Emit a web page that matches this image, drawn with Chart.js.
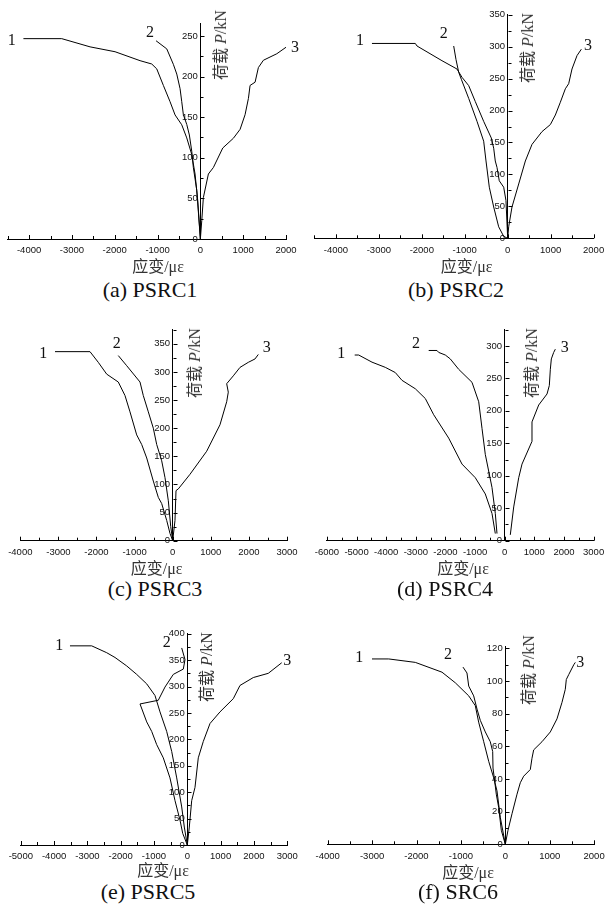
<!DOCTYPE html>
<html>
<head>
<meta charset="utf-8">
<script src="https://cdn.jsdelivr.net/npm/chart.js@4.4.0/dist/chart.umd.min.js"></script>
<style>
  body { margin: 0; background: #fff; width: 605px; height: 915px; position: relative; overflow: hidden; }
  canvas { position: absolute; }
  .t { position: absolute; transform: translate(-50%, -50%); line-height: 1; white-space: nowrap;
       color: #111; font-family: "Liberation Serif", "Noto Sans CJK SC", serif; }
  .cap { font-size: 22px; }
  .ttl { font-size: 16px; color: #333; }
  .num { font-size: 16px; }
  .ylab { font-size: 16px; color: #333; transform: translate(-50%, -50%) rotate(-90deg); }
</style>
</head>
<body>
<script>
// 应变 (με) 与 荷载 P (kN)
// (a) PSRC1
const a1Strain = [-4133, -3238, -2577, -1993, -1409, -1136, -1019, -864, -708, -591, -435, -318, -201, -124, -61, 0];
const a1Load   = [246.6, 246.6, 236.5, 230.5, 219.5, 215.4, 209.4, 189, 169, 152.7, 140.6, 124.4, 104, 80, 47, 0];
const a2Strain = [-1035, -785, -631, -551, -474, -435, -397, -318, -257, -201, -164, -84, 0];
const a2Load   = [244, 234, 215, 203, 185, 169, 153, 141, 128, 108, 88, 60, 0];
const a3Strain = [0, 33, 70, 187, 304, 523, 771, 928, 1044, 1122, 1161, 1278, 1355, 1472, 1785, 2000];
const a3Load   = [0, 23, 51, 80, 88, 112, 124, 135, 153, 173, 189, 193, 211, 220, 228, 236];
// (b) PSRC2
const b1Strain = [-3160, -2151, -2111, -1530, -1181, -1064, -908, -754, -559, -382, -326, -289, -249, -196, -93, -40, 0];
const b1Load   = [305, 305, 301, 278, 265, 252, 239, 214, 183, 157, 141, 121, 111, 90, 80, 59, 0];
const b2Strain = [-1257, -1204, -1141, -1080, -908, -714, -559, -505, -428, -326, -210, -93, 0];
const b2Load   = [301, 280, 260, 249, 219, 183, 152, 121, 80, 49, 18, 3, 0];
const b3Strain = [0, 23, 100, 256, 411, 566, 799, 993, 1110, 1226, 1342, 1420, 1497, 1614, 1715];
const b3Load   = [0, 18, 49, 85, 121, 147, 167, 178, 193, 213, 234, 242, 265, 286, 296];
// (c) PSRC3
const c1Strain = [-3089, -2171, -1953, -1732, -1428, -1252, -1121, -945, -814, -682, -509, -378, -289, -157, -71, 0];
const c1Load   = [336, 336, 317, 296, 282, 258, 229, 188, 171, 147, 106, 77, 66, 36, 13, 0];
const c2Strain = [-1428, -1207, -858, -772, -640, -509, -420, -289, -202, -115, -52, 0];
const c2Load   = [329, 311, 282, 258, 229, 200, 171, 142, 112, 71, 25, 0];
const c3Strain = [0, 60, 87, 147, 454, 892, 1241, 1417, 1459, 1417, 1591, 1766, 1984, 2160, 2247];
const c3Load   = [0, 36, 89, 92, 118, 159, 206, 247, 264, 279, 293, 308, 317, 323, 331];
// (d) PSRC4
const d1Strain = [-5062, -4927, -4478, -4029, -3692, -3466, -3016, -2679, -2396, -1890, -1441, -992, -655, -429, -317];
const d1Load   = [286, 286, 275, 267, 259, 247, 234, 219, 194, 158, 118, 97, 72, 42, 11];
const d2Strain = [-2565, -2285, -2227, -2004, -1836, -1553, -1104, -877, -766, -655, -429, -317, -260];
const d2Load   = [293, 293, 290, 286, 280, 264, 244, 214, 173, 133, 82, 42, 11];
const d3Strain = [189, 304, 473, 584, 921, 921, 1147, 1428, 1506, 1540, 1574, 1653, 1709];
const d3Load   = [9, 52, 97, 118, 153, 183, 209, 226, 239, 264, 280, 290, 295];
// (e) PSRC5
const e1Strain = [-3523, -2871, -2420, -2171, -1820, -1520, -1219, -970, -820, -619, -468, -318, -168, -90, 0];
const e1Load   = [377, 377, 364, 355, 339, 323, 305, 283, 252, 215, 177, 127, 72, 34, 0];
const e2Strain = [-168, -69, -120, -420, -670, -871, -1420, -1219, -1069, -919, -721, -520, -369, -219, -138, 0];
const e2Load   = [373, 351, 333, 323, 299, 274, 267, 233, 215, 190, 165, 127, 84, 47, 22, 0];
const e3Strain = [0, 60, 132, 231, 330, 480, 682, 982, 1381, 1582, 1982, 2432, 2835];
const e3Load   = [0, 34, 84, 109, 165, 196, 230, 252, 277, 302, 317, 325, 345];
// (f) SRC6
const f1Strain = [-3002, -2626, -2027, -1426, -1126, -824, -676, -600, -486, -374, -261, -187, -113, 0];
const f1Load   = [113.5, 113.5, 111.4, 105.4, 98.9, 90.9, 84.9, 74.8, 62.8, 50.8, 40.7, 32.7, 16.6, 0];
const f2Strain = [-953, -863, -824, -712, -637, -563, -450, -338, -284, -277, -239, -203, -149, -90, 0];
const f2Load   = [108.5, 104.9, 96.9, 90.9, 82.8, 75.9, 68.8, 62.8, 56.8, 46.7, 38.7, 30.7, 22.6, 8.6, 0];
const f3Strain = [0, 61, 151, 264, 338, 414, 563, 601, 639, 826, 1014, 1164, 1277, 1351, 1374, 1428, 1541, 1577];
const f3Load   = [0, 8.6, 18.7, 30.7, 37.7, 41.7, 45.8, 52.7, 57.8, 62.8, 68.8, 76.8, 86.9, 94.9, 100.9, 103.9, 109.9, 111.4];

// 刻度
const xTicks4to2 = [-4000, -3000, -2000, -1000, 0, 1000, 2000];
const xTicks4to3 = [-4000, -3000, -2000, -1000, 0, 1000, 2000, 3000];
const xTicks6to3 = [-6000, -5000, -4000, -3000, -2000, -1000, 0, 1000, 2000, 3000];
const xTicks5to3 = [-5000, -4000, -3000, -2000, -1000, 0, 1000, 2000, 3000];
const yTicks250 = [0, 50, 100, 150, 200, 250];
const yTicks350 = [0, 50, 100, 150, 200, 250, 300, 350];
const yTicks300 = [0, 50, 100, 150, 200, 250, 300];
const yTicks400 = [0, 50, 100, 150, 200, 250, 300, 350, 400];
const yTicks120 = [0, 20, 40, 60, 80, 100, 120];

const curveNames = ['1', '2', '3'];
const captions = ['(a) PSRC1', '(b) PSRC2', '(c) PSRC3', '(d) PSRC4', '(e) PSRC5', '(f) SRC6'];

// 每个子图的坐标范围和页面位置 (box = 绘图区 left, right, top, bottom)
const panels = [
  { box: [7.7, 286, 20.9, 239], xMin: -4500, xMax: 2000, yMax: 265, xTicks: xTicks4to2, yTicks: yTicks250, yMinor: 25,
    series: [[a1Strain, a1Load], [a2Strain, a2Load], [a3Strain, a3Load]],
    capPos: [150, 289.5], titlePos: [158, 266.5], yLabPos: [221, 45],
    numPos: [[11.7, 40], [150, 31.7], [295, 46.7]] },
  { box: [314.4, 593.6, 11.5, 238.3], xMin: -4500, xMax: 2000, yMax: 350, xTicks: xTicks4to2, yTicks: yTicks350, yMinor: 25,
    series: [[b1Strain, b1Load], [b2Strain, b2Load], [b3Strain, b3Load]],
    capPos: [456, 289.5], titlePos: [466.7, 266.5], yLabPos: [528, 47.5],
    numPos: [[360, 40], [443.7, 33.3], [588, 45]] },
  { box: [20.3, 287, 326.8, 540.7], xMin: -4000, xMax: 3000, yMax: 375, xTicks: xTicks4to3, yTicks: yTicks350, yMinor: 25,
    series: [[c1Strain, c1Load], [c2Strain, c2Load], [c3Strain, c3Load]],
    capPos: [155, 589], titlePos: [156.7, 569], yLabPos: [195, 363],
    numPos: [[43.3, 352.7], [116.7, 343.3], [266.7, 346.7]] },
  { box: [326.9, 593.6, 326.8, 540.7], xMin: -6000, xMax: 3000, yMax: 325, xTicks: xTicks6to3, yTicks: yTicks300, yMinor: 25,
    series: [[d1Strain, d1Load], [d2Strain, d2Load], [d3Strain, d3Load]],
    capPos: [445, 589], titlePos: [463, 569], yLabPos: [532, 362.5],
    numPos: [[341.3, 352.7], [416, 343.3], [564.7, 346.7]] },
  { box: [20.8, 287.2, 630.6, 845], xMin: -5000, xMax: 3000, yMax: 400, xTicks: xTicks5to3, yTicks: yTicks400, yMinor: 25,
    series: [[e1Strain, e1Load], [e2Strain, e2Load], [e3Strain, e3Load]],
    capPos: [148, 892], titlePos: [163, 871], yLabPos: [206.5, 666.5],
    numPos: [[59.3, 645], [166.7, 641.7], [287.3, 660]] },
  { box: [327.7, 594.1, 643.3, 844.3], xMin: -4000, xMax: 2000, yMax: 121, xTicks: xTicks4to2, yTicks: yTicks120, yMinor: 10,
    series: [[f1Strain, f1Load], [f2Strain, f2Load], [f3Strain, f3Load]],
    capPos: [458, 892], titlePos: [468, 873], yLabPos: [529, 670],
    numPos: [[359.3, 656.7], [448, 654], [580.3, 661.7]] }
];

Chart.defaults.color = '#111';
Chart.defaults.font.family = '"Liberation Sans", Arial, sans-serif';
Chart.defaults.font.size = 9.5;

// 刻度线朝内，含小刻度
const innerTicks = {
  id: 'innerTicks',
  afterDraw(chart, args, opts) {
    const { ctx, scales: { x, y } } = chart;
    const x0 = Math.round(x.getPixelForValue(0)) + 0.5;
    const yStep = opts.yMinor * 2;
    ctx.save();
    ctx.strokeStyle = '#000';
    ctx.lineWidth = 1;
    ctx.beginPath();
    for (let v = Math.ceil(x.min / 500) * 500; v <= x.max; v += 500) {
      const px = Math.round(x.getPixelForValue(v)) + 0.5;
      const len = v % 1000 === 0 ? 4 : 3;
      ctx.moveTo(px, y.bottom);
      ctx.lineTo(px, y.bottom - len);
    }
    for (let v = 0; v <= y.max; v += opts.yMinor) {
      const py = Math.round(y.getPixelForValue(v)) + 0.5;
      const len = v % yStep === 0 ? 4 : 3;
      ctx.moveTo(x0, py);
      ctx.lineTo(x0 + len, py);
    }
    ctx.stroke();
    ctx.restore();
  }
};

function addText(html, pos, cls) {
  const d = document.createElement('div');
  d.className = 't ' + cls;
  d.innerHTML = html;
  d.style.left = pos[0] + 'px';
  d.style.top = pos[1] + 'px';
  document.body.appendChild(d);
}

panels.forEach((p, i) => {
  const [bl, br, bt, bb] = p.box;
  const side = 22, xAxisH = 22;
  const cl = Math.floor(bl) - side;
  const ct = Math.floor(bt) - 6;
  const w = Math.ceil(br) + side - cl;
  const h = Math.ceil(bb) + xAxisH - ct;

  const canvas = document.createElement('canvas');
  canvas.width = w;
  canvas.height = h;
  canvas.style.left = cl + 'px';
  canvas.style.top = ct + 'px';
  document.body.appendChild(canvas);

  new Chart(canvas, {
    type: 'line',
    data: {
      datasets: p.series.map(([xs, ys]) => ({
        data: xs.map((v, k) => ({ x: v, y: ys[k] })),
        borderColor: '#000',
        borderWidth: 1,
        pointRadius: 0,
        tension: 0,
        fill: false
      }))
    },
    options: {
      responsive: false,
      animation: false,
      events: [],
      layout: {
        padding: {
          left: bl - cl,
          right: w - (br - cl),
          top: bt - ct,
          bottom: h - (bb - ct) - xAxisH
        }
      },
      plugins: {
        legend: { display: false },
        tooltip: { enabled: false },
        innerTicks: { yMinor: p.yMinor }
      },
      scales: {
        x: {
          type: 'linear',
          position: 'bottom',
          min: p.xMin,
          max: p.xMax,
          afterFit: s => { s.height = xAxisH; },
          afterBuildTicks: s => { s.ticks = p.xTicks.map(v => ({ value: v })); },
          grid: { display: false, drawTicks: false },
          border: { display: true, color: '#000', width: 1 },
          ticks: {
            autoSkip: false,
            maxRotation: 0,
            padding: 6,
            callback: v => String(v)
          }
        },
        y: {
          type: 'linear',
          position: { x: 0 },
          min: 0,
          max: p.yMax,
          afterBuildTicks: s => { s.ticks = p.yTicks.map(v => ({ value: v })); },
          grid: { display: false, drawTicks: false },
          border: { display: true, color: '#000', width: 1 },
          ticks: {
            autoSkip: false,
            padding: 4,
            callback: v => String(v) + ' '
          }
        }
      }
    },
    plugins: [innerTicks]
  });

  addText(captions[i], p.capPos, 'cap');
  addText('应变/με', p.titlePos, 'ttl');
  addText('荷载 <i>P</i>/kN', p.yLabPos, 'ylab');
  p.numPos.forEach((pos, k) => addText(curveNames[k], pos, 'num'));
});
</script>
</body>
</html>
